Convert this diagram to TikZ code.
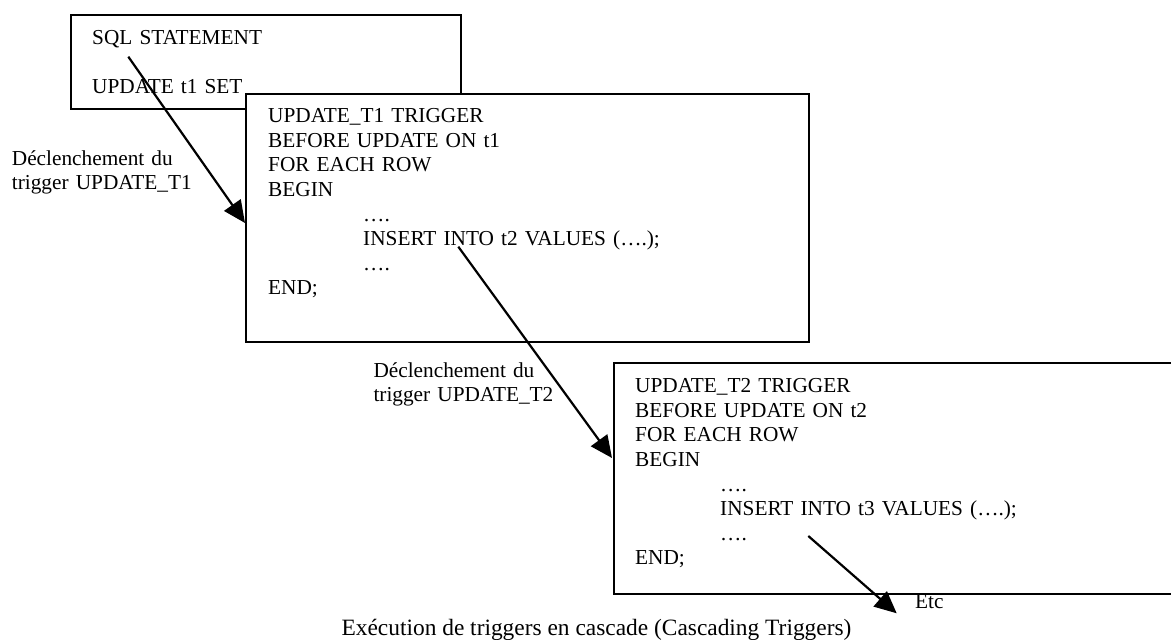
\documentclass[tikz,border=0pt]{standalone}
\usepackage{fontspec}
\setmainfont{Liberation Serif}
\usetikzlibrary{arrows.meta,calc}
\tikzset{
  frame/.style={draw=black, line width=2.2pt, fill=white, inner sep=0pt, anchor=north west},
  code/.style={font=\fontsize{21.3}{24.6}\selectfont, text width=420pt, align=left, inner sep=0pt, anchor=base west},
  note/.style={font=\fontsize{21.3}{24}\selectfont, text width=200pt, align=left, inner sep=0pt, anchor=base west},
  flow/.style={line width=2.2pt, -{Triangle[length=22pt,width=20pt]}},
}
\begin{document}
\begin{tikzpicture}[x=1pt,y=-1pt]
\useasboundingbox (0,0) rectangle (1171,640);
\clip (0,0) rectangle (1171,640);
\fill[white] (0,0) rectangle (1171,640);

% the SQL statement
\node[frame, minimum width=390pt, minimum height=94pt] (stmt) at (70,14) {};
\node[code] (stmtcode) at (92,44) {SQL STATEMENT\\[24.6pt]UPDATE t1 SET};

% first trigger
\node[frame, minimum width=563pt, minimum height=248pt] (trigA) at (245,93) {};
\node[code] (trigAcode) at (268,122.7) {UPDATE\_T1 TRIGGER\\BEFORE UPDATE ON t1\\FOR EACH ROW\\BEGIN\\\hspace*{95pt}….\\\hspace*{95pt}INSERT INTO t2 VALUES (….);\\\hspace*{95pt}….\\END;};

% second trigger (runs off the right edge)
\node[frame, minimum width=600pt, minimum height=231pt] (trigB) at (613,362) {};
\node[code] (trigBcode) at (635,392.7) {UPDATE\_T2 TRIGGER\\BEFORE UPDATE ON t2\\FOR EACH ROW\\BEGIN\\\hspace*{85pt}….\\\hspace*{85pt}INSERT INTO t3 VALUES (….);\\\hspace*{85pt}….\\END;};

% firing arrows
\coordinate (s1) at (128.3,56.7);
\coordinate (e1) at ($(trigA.north west)+(0,130)$);
\draw[flow] (s1) -- (e1);
\coordinate (s2) at (458.3,246.7);
\coordinate (e2) at ($(trigB.north west)+(-1,96)$);
\draw[flow] (s2) -- (e2);
\coordinate (s3) at (808.3,536);
\coordinate (e3) at (896.7,613.3);
\draw[flow] (s3) -- (e3);

% labels
\node[note] (fire1) at (11.7,165.5) {Déclenchement du\\trigger UPDATE\_T1};
\node[note] (fire2) at (373.3,377) {Déclenchement du\\trigger UPDATE\_T2};
\node[note] (etc) at (915,608) {Etc};
\node[font=\fontsize{23.4}{28}\selectfont, anchor=base, inner sep=0pt] (caption) at (596.5,635) {Exécution de triggers en cascade (Cascading Triggers)};
\end{tikzpicture}
\end{document}
